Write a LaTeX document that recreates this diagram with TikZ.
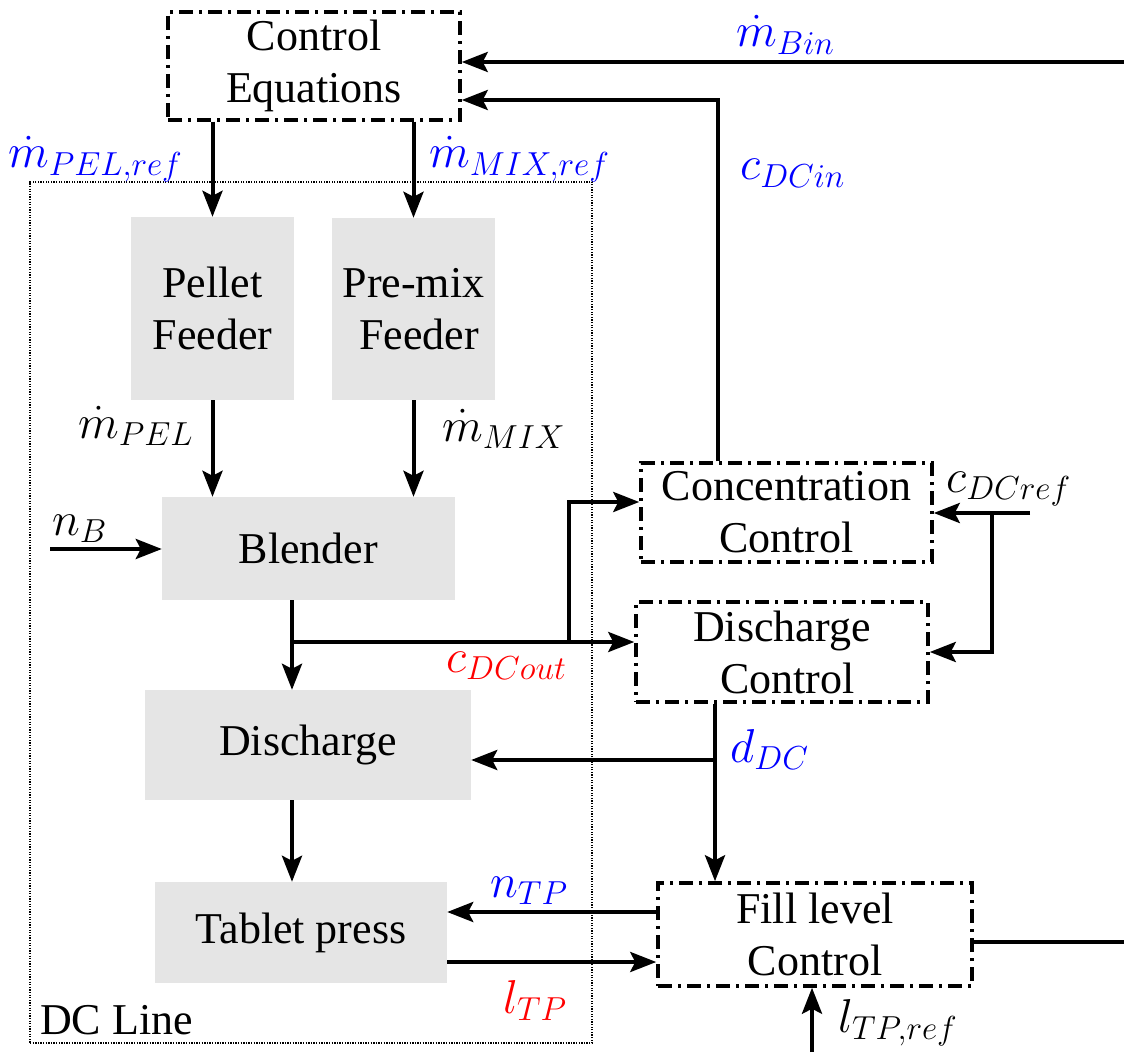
\RequirePackage{fix-cm}
\documentclass[tikz,border=0pt]{standalone}
\usepackage{fontspec}
\setmainfont{Liberation Serif}
\usetikzlibrary{arrows.meta}
\begin{document}
\begin{tikzpicture}[x=1pt,y=-1pt,
  font=\fontsize{44}{52}\selectfont,
  line join=miter,
  graybox/.style={fill=black!10, inner sep=0pt, align=center},
  ctrlbox/.style={draw, line width=3.5pt, dash pattern=on 14pt off 6pt on 3pt off 6pt, inner sep=0pt, align=center},
  arr/.style={line width=4pt, -{Stealth[length=26pt,width=20pt,inset=5pt]}},
  plain/.style={line width=4pt},
  lab/.style={inner sep=0pt, scale=1.08, anchor=base west},
  bl/.style={lab, text=blue},
  rd/.style={lab, text=red}]
\useasboundingbox (0,0) rectangle (1124,1056);

% DC line frame
\node[draw, line width=2.5pt, dash pattern=on 1.3pt off 1.3pt, minimum width=562pt, minimum height=861pt, inner sep=0pt] (dcl) at (311,612.5) {};
\node[inner sep=0pt, anchor=west] (dcltxt) at (40,1020) {DC Line};

% boxes
\node[ctrlbox, minimum width=292pt, minimum height=108pt] (ce) at (314,66) {Control\\Equations};
\node[graybox, minimum width=163pt, minimum height=183pt] (pf) at (212.5,308.5) {Pellet\\Feeder};
\node[graybox, minimum width=163pt, minimum height=182pt] (pm) at (413.5,309) {Pre-mix\\\ Feeder};
\node[graybox, minimum width=293pt, minimum height=103pt] (bld) at (308.5,548.5) {Blender};
\node[graybox, minimum width=326pt, minimum height=110pt] (dis) at (308,745) {Discharge};
\node[graybox, minimum width=292pt, minimum height=101pt] (tp) at (301,932.5) {Tablet press};
\node[ctrlbox, minimum width=291pt, minimum height=99pt] (cc) at (786.5,512.5) {Concentration\\Control};
\node[ctrlbox, minimum width=292pt, minimum height=100pt] (dc) at (782,652) {Discharge\\\ Control};
\node[ctrlbox, minimum width=314pt, minimum height=103pt] (fl) at (815,934.5) {Fill level\\Control};

% labels
\node[bl] (lmbin) at (736,47) {$\dot m_{Bin}$};
\node[bl] (lcdcin) at (740,180) {$c_{DCin}$};
\node[bl] (lmpelref) at (8,168) {$\dot m_{PEL,ref}$};
\node[bl] (lmmixref) at (429,168) {$\dot m_{MIX,ref}$};
\node[lab] (lmpel) at (78,438) {$\dot m_{PEL}$};
\node[lab] (lmmix) at (442,441) {$\dot m_{MIX}$};
\node[lab] (lnb) at (52,535) {$n_B$};
\node[rd] (lcdcout) at (446,672) {$c_{DCout}$};
\node[lab] (lcdcref) at (946,492) {$c_{DCref}$};
\node[bl] (lddc) at (730,762) {$d_{DC}$};
\node[bl] (lntp) at (490,897) {$n_{TP}$};
\node[rd] (lltp) at (503,1013) {$l_{TP}$};
\node[lab] (lltpref) at (838,1032) {$l_{TP,ref}$};

% coordinates
\coordinate (inB) at (1124,62);
\coordinate (j0) at (718,100);
\coordinate (nBin) at (50,549);
\coordinate (j1) at (292,642);
\coordinate (j2) at (569,642);
\coordinate (j2t) at (569,502);
\coordinate (cref) at (1030,513);
\coordinate (j3) at (992,513);
\coordinate (j4) at (715,760);
\coordinate (ntpy) at (0,912);
\coordinate (ltpy) at (0,962);
\coordinate (outR) at (1124,942);
\coordinate (ltpin) at (812,1052);

% connectors
\draw[arr] (inB) -- (inB -| ce.east);
\draw[arr] (j0 |- cc.north) -- (j0) -- (j0 -| ce.east);
\draw[arr] (pf.north |- ce.south) -- (pf.north);
\draw[arr] (pm.north |- ce.south) -- (pm.north);
\draw[arr] (pf.south) -- (pf.south |- bld.north);
\draw[arr] (pm.south) -- (pm.south |- bld.north);
\draw[arr] (nBin) -- (nBin -| bld.west);
\draw[arr] (j1 |- bld.south) -- (j1 |- dis.north);
\draw[arr] (j1) -- (j1 -| dc.west);
\draw[arr] (j2) -- (j2t) -- (j2t -| cc.west);
\draw[arr] (j1 |- dis.south) -- (j1 |- tp.north);
\draw[arr] (cref) -- (cref -| cc.east);
\draw[arr] (j3) |- (dc.east);
\draw[arr] (j4 |- dc.south) -- (j4 |- fl.north);
\draw[arr] (j4) -- (j4 -| dis.east);
\draw[arr] (fl.west |- ntpy) -- (tp.east |- ntpy);
\draw[arr] (tp.east |- ltpy) -- (fl.west |- ltpy);
\draw[plain] (fl.east |- outR) -- (outR);
\draw[arr] (ltpin) -- (ltpin |- fl.south);
\end{tikzpicture}
\end{document}
